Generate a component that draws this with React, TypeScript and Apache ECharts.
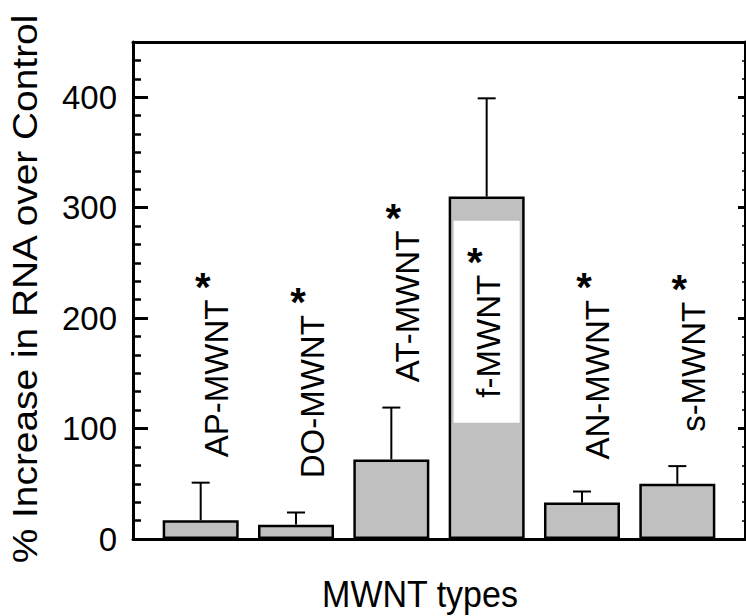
import React, { useEffect, useRef } from "react";
import * as echarts from "echarts";

// ---- data ----
const categories: string[] = ["AP-MWNT", "DO-MWNT", "AT-MWNT", "f-MWNT", "AN-MWNT", "s-MWNT"];
const increase: number[] = [17, 13, 72, 310, 33, 50];
const errorUp: number[] = [34, 11, 47, 89, 10, 16];
const yTicks: number[] = [0, 100, 200, 300, 400];
const yAxisTitle = "% Increase in RNA over Control";
const xAxisTitle = "MWNT types";

// ---- layout (not data) ----
const labelBase: number[] = [74, 55, 142, 128, 72, 97]; // value height where each label starts
const boxedLabel = "f-MWNT";

const FONT = "Arial, 'Liberation Sans', Helvetica, sans-serif";
const LABEL_SIZE = 33;

let ctx: CanvasRenderingContext2D | null = null;
function measure(t: string, size: number): number {
  if (!ctx) ctx = document.createElement("canvas").getContext("2d");
  if (!ctx) return t.length * size * 0.6;
  ctx.font = `${size}px ${FONT}`;
  return ctx.measureText(t).width;
}

export default function App() {
  const ref = useRef<HTMLDivElement>(null);
  useEffect(() => {
    if (!ref.current) return;
    const chart = echarts.init(ref.current, undefined, { renderer: "svg" });
    const xs = categories.map((_, i) => i + 1);
    const xMin = 0.29, xMax = 6.71;
    const frame = { lineStyle: { color: "#000", width: 3 } };
    const option: any = {
      animation: false,
      backgroundColor: "#fff",
      grid: [
        { left: 133, right: 1, top: 42, bottom: 77 },
        { left: 133, right: 1, top: 42, bottom: 77 },
      ],
      xAxis: [
        { gridIndex: 0, type: "value", min: xMin, max: xMax, position: "bottom", axisLine: { show: true, onZero: false, ...frame }, axisTick: { show: false }, axisLabel: { show: false }, splitLine: { show: false } },
        { gridIndex: 0, type: "value", min: xMin, max: xMax, position: "top", axisLine: { show: true, onZero: false, ...frame }, axisTick: { show: false }, axisLabel: { show: false }, splitLine: { show: false } },
        { gridIndex: 1, type: "value", min: xMin, max: xMax, show: false },
      ],
      yAxis: [
        {
          gridIndex: 0, type: "value", position: "left", min: 0, max: 450, interval: 100,
          axisLine: { show: true, onZero: false, ...frame },
          axisTick: { show: true, inside: true, length: 15, lineStyle: { color: "#000", width: 3 } },
          axisLabel: {
            margin: 16, fontSize: 33, fontFamily: FONT, color: "#000",
            formatter: (v: number) => (yTicks.indexOf(v) >= 0 ? String(v) : ""),
          },
          splitLine: { show: false },
        },
        {
          gridIndex: 0, type: "value", position: "right", min: 0, max: 450, interval: 100,
          axisLine: { show: true, onZero: false, ...frame },
          axisTick: { show: true, inside: true, length: 7, lineStyle: { color: "#000", width: 3 } },
          axisLabel: { show: false }, splitLine: { show: false },
        },
        {
          gridIndex: 1, type: "value", position: "left", min: 0, max: 450, interval: 50 / 3,
          axisLine: { show: false },
          axisTick: { show: true, inside: true, length: 8, lineStyle: { color: "#000", width: 2.5 } },
          axisLabel: { show: false }, splitLine: { show: false },
        },
        {
          gridIndex: 1, type: "value", position: "right", min: 0, max: 450, interval: 50 / 3,
          axisLine: { show: false },
          axisTick: { show: true, inside: true, length: 3, lineStyle: { color: "#000", width: 1.5 } },
          axisLabel: { show: false }, splitLine: { show: false },
        },
      ],
      graphic: [
        {
          type: "text", x: 420, y: 594, scaleY: 1.1,
          style: { text: xAxisTitle, fontSize: 34, fontFamily: FONT, fill: "#000", align: "center", verticalAlign: "middle" },
        },
        {
          type: "text", x: 25, y: 289, rotation: Math.PI / 2, scaleX: 1.08,
          style: { text: yAxisTitle, fontSize: 36, fontFamily: FONT, fill: "#000", align: "center", verticalAlign: "middle" },
        },
      ],
      series: [
        {
          type: "bar", xAxisIndex: 0, yAxisIndex: 0, barWidth: 76,
          data: xs.map((x, i) => [x, increase[i]]),
          itemStyle: { color: "#c0c0c0", borderColor: "#000", borderWidth: 2.5 },
          z: 2,
        },
        {
          type: "custom", xAxisIndex: 0, yAxisIndex: 0, z: 3,
          data: xs.map((x, i) => [x, increase[i], errorUp[i]]),
          renderItem: (_p: any, api: any) => {
            const x = api.value(0), m = api.value(1), e = api.value(2);
            const b = api.coord([x, m]);
            const t = api.coord([x, m + e]);
            const cap = 9;
            const st = { stroke: "#000", lineWidth: 2 };
            return {
              type: "group",
              children: [
                { type: "line", shape: { x1: b[0], y1: b[1], x2: t[0], y2: t[1] }, style: st },
                { type: "line", shape: { x1: t[0] - cap, y1: t[1], x2: t[0] + cap, y2: t[1] }, style: st },
              ],
            };
          },
        },
        {
          type: "custom", xAxisIndex: 0, yAxisIndex: 0, z: 4,
          data: xs.map((x, i) => [x, labelBase[i]]),
          renderItem: (p: any, api: any) => {
            const x = api.value(0), base = api.value(1);
            const c = api.coord([x, base]);
            const name = categories[p.dataIndex];
            const boxed = name === boxedLabel;
            const w = measure(name, LABEL_SIZE);
            const tx = c[0] + (boxed ? 2 : 16);
            const by = c[1];
            const top = by - w;
            const children: any[] = [];
            if (boxed) {
              children.push({
                type: "rect",
                shape: { x: c[0] - 33, y: top - 54, width: 66, height: w + 79 },
                style: { fill: "#fff" },
              });
            }
            children.push({
              type: "text", x: tx, y: by, rotation: Math.PI / 2,
              style: { text: name, fontSize: LABEL_SIZE, fontFamily: FONT, fill: "#000", align: "left", verticalAlign: "middle" },
            });
            children.push({
              type: "text", x: tx - 14, y: top - 13,
              style: { text: "*", fontSize: 40, fontWeight: "bold", fontFamily: FONT, fill: "#000", align: "center", verticalAlign: "middle" },
            });
            return { type: "group", children };
          },
        },
      ],
    };
    chart.setOption(option);
    return () => chart.dispose();
  }, []);
  return <div ref={ref} style={{ width: 746, height: 616, position: "absolute", left: 0, top: 0 }} />;
}
